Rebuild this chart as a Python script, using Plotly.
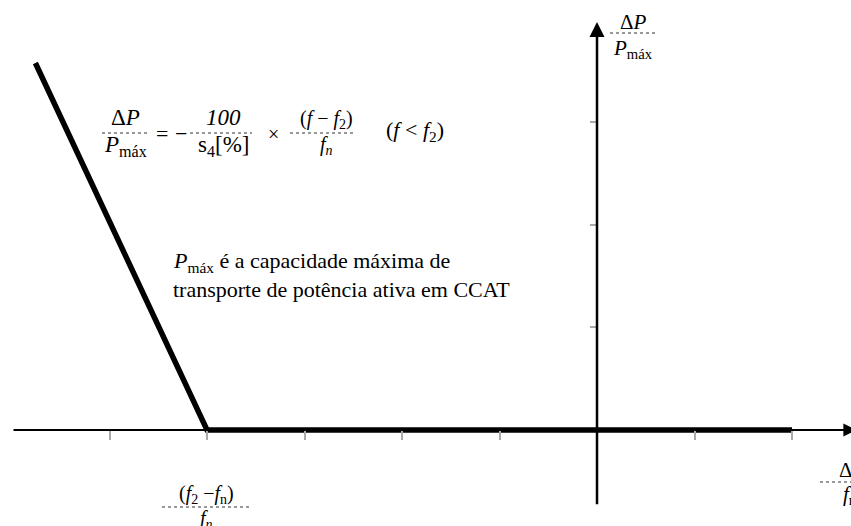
import plotly.graph_objects as go

W, H = 851, 526

# characteristic curve dP/Pmax vs df/fn
curve_x = [-5.76, -4.0, 2.0]
curve_y = [3.58, 0.0, 0.0]

x_ticks = [-5, -4, -3, -2, -1, 1, 2]
y_ticks = [1, 2, 3]

x_range = [-6.123, 2.605]
y_range = [-0.937, 4.195]

FONT = "Liberation Serif"


def px(x):
    return x / W


def py(y):
    return 1 - y / H


fig = go.Figure()

fig.add_trace(go.Scatter(x=curve_x, y=curve_y, mode="lines",
                         line=dict(color="black", width=5.5),
                         hoverinfo="skip", showlegend=False))

# axes with arrows
fig.add_annotation(x=2.66, y=0, ax=-6.0, ay=0, xref="x", yref="y", axref="x", ayref="y",
                   text="", showarrow=True, arrowhead=2, arrowsize=1.3, arrowwidth=2,
                   arrowcolor="black")
fig.add_annotation(x=0, y=3.98, ax=0, ay=-0.74, xref="x", yref="y", axref="x", ayref="y",
                   text="", showarrow=True, arrowhead=2, arrowsize=1.2, arrowwidth=2.5,
                   arrowcolor="black")


def text(x, y, s, size=23, xanchor="center", yanchor="middle"):
    fig.add_annotation(x=px(x), y=py(y), xref="paper", yref="paper", text=s,
                       showarrow=False, xanchor=xanchor, yanchor=yanchor,
                       font=dict(family=FONT, size=size, color="black"))


def frac(xc, yl, x0, x1, num, den, size=23, up=0, down=0):
    fig.add_shape(type="line", xref="paper", yref="paper",
                  x0=px(x0), x1=px(x1), y0=py(yl), y1=py(yl),
                  line=dict(color="#777777", width=1.5, dash="dot"))
    fig.add_annotation(x=px(xc), y=py(yl), xref="paper", yref="paper", text=num,
                       showarrow=False, xanchor="center", yanchor="bottom", yshift=up,
                       font=dict(family=FONT, size=size, color="black"))
    fig.add_annotation(x=px(xc), y=py(yl), xref="paper", yref="paper", text=den,
                       showarrow=False, xanchor="center", yanchor="top", yshift=down,
                       font=dict(family=FONT, size=size, color="black"))


PMAX = "<i>P</i><sub>máx</sub>"
DP = "Δ<i>P</i>"

# formula
frac(125, 133, 102, 148, DP, PMAX, up=1, down=3)
text(162, 133, "=", size=22)
text(181, 133, "−", size=22)
frac(223, 133, 190, 252, "<i>100</i>", "s<sub>4</sub>[%]", up=1, down=3)
text(273, 134, "×", size=20)
frac(326, 133, 290, 356, "(<i>f</i> − <i>f</i><sub>2</sub>)", "<i>f<sub>n</sub></i>",
     size=20, up=-1, down=2)
text(384, 131, "(<i>f</i> &lt; <i>f</i><sub>2</sub>)", size=22, xanchor="left")

# note
text(171, 262, PMAX + " é a capacidade máxima de", size=22, xanchor="left")
text(171, 289, "transporte de potência ativa em CCAT", size=22, xanchor="left")

# axis labels
frac(633, 33, 610, 655, DP, PMAX, size=21, up=-3, down=-1)
frac(206, 507, 162, 250, "(<i>f</i><sub>2</sub> −<i>f</i><sub>n</sub>)", "<i>f<sub>n</sub></i>",
     size=20, up=-2, down=2)
frac(850, 482, 820, 880, "Δ<i>f</i>", "<i>f</i><sub>n</sub>", size=21, up=-2, down=2)

fig.update_xaxes(range=x_range, anchor="free", position=-y_range[0] / (y_range[1] - y_range[0]),
                 showgrid=False, zeroline=False, showline=False, showticklabels=False,
                 ticks="outside", tickvals=x_ticks, ticklen=9, tickwidth=2, tickcolor="#aaaaaa")
fig.update_yaxes(range=y_range, anchor="free", position=-x_range[0] / (x_range[1] - x_range[0]),
                 showgrid=False, zeroline=False, showline=False, showticklabels=False,
                 ticks="outside", tickvals=y_ticks, ticklen=7, tickwidth=2, tickcolor="#aaaaaa")

fig.update_layout(width=W, height=H, margin=dict(l=0, r=0, t=0, b=0),
                  plot_bgcolor="white", paper_bgcolor="white", showlegend=False)

fig.write_html("out.html", config={"displayModeBar": False},
               post_script="document.body.style.margin = '0px';")
